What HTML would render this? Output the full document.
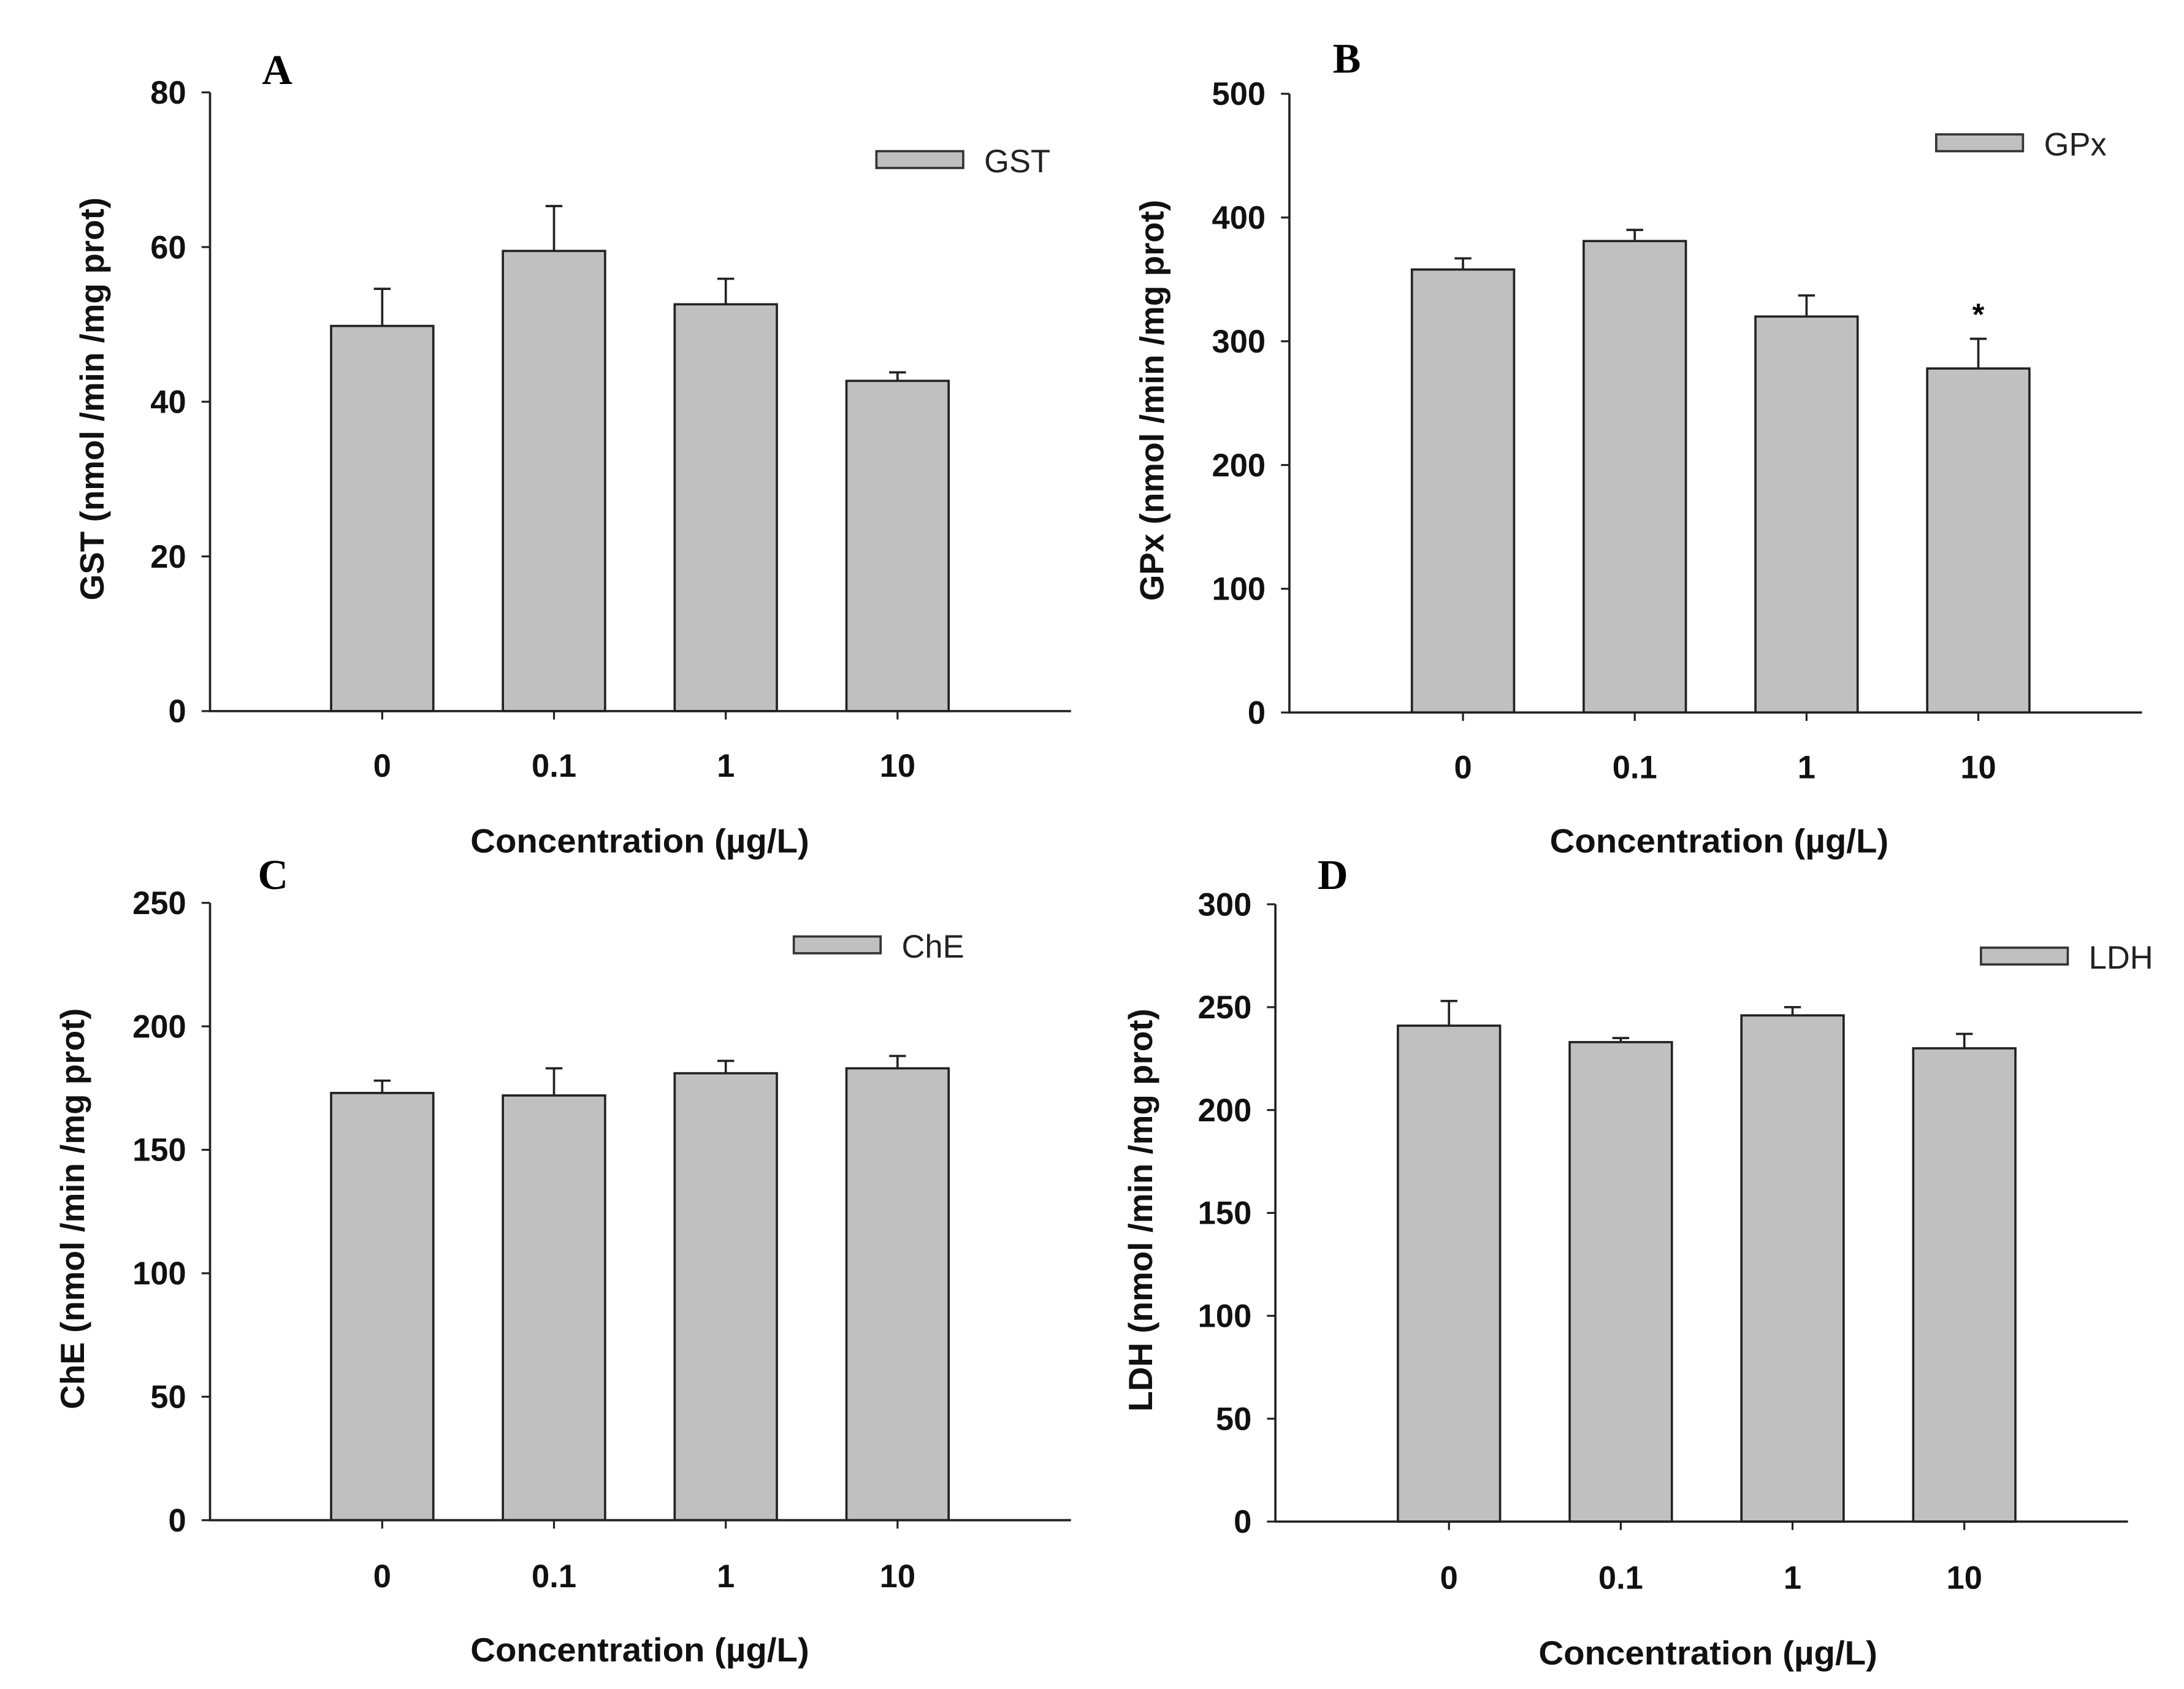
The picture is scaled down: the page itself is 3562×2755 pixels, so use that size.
<!DOCTYPE html>
<html><head><meta charset="utf-8">
<style>html,body{margin:0;padding:0;background:#fff}svg{display:block}</style></head>
<body>
<svg id="fig" width="3562" height="2755" viewBox="0 0 1560 1206.6" xmlns="http://www.w3.org/2000/svg" font-family="'Liberation Sans', sans-serif"></svg>
<script>
const categories = ["0","0.1","1","10"];
const gstValues = [49.8, 59.5, 52.6, 42.7];
const gstErrors = [4.8, 5.8, 3.3, 1.1];
const gpxValues = [358, 381, 320, 278];
const gpxErrors = [9, 9, 17, 24];
const cheValues = [173, 172, 181, 183];
const cheErrors = [5, 11, 5, 5];
const ldhValues = [241, 233, 246, 230];
const ldhErrors = [12, 2, 4, 7];
const gstTicks = [0,20,40,60,80];
const gpxTicks = [0,100,200,300,400,500];
const cheTicks = [0,50,100,150,200,250];
const ldhTicks = [0,50,100,150,200,250,300];
const gpxStars = ["","","","*"];

const svg = document.getElementById('fig');
const NS = 'http://www.w3.org/2000/svg';
function mk(tag, attrs, parent){const e=document.createElementNS(NS,tag);for(const k in attrs)e.setAttribute(k,attrs[k]);(parent||svg).appendChild(e);return e;}

const panels = [
 {key:'a',letter:'A',lx:198,ly:60,ax:150,top:66,zero:508,right:765,ymax:80,ticks:gstTicks,vals:gstValues,errs:gstErrors,name:'GST',ytx:66,
  c0:273,step:122.7,tly:555,ttx:457,tty:609,legx:626,legy:108,stars:null},
 {key:'b',letter:'B',lx:962,ly:52,ax:921,top:67,zero:509,right:1530,ymax:500,ticks:gpxTicks,vals:gpxValues,errs:gpxErrors,name:'GPx',ytx:823,
  c0:1045,step:122.7,tly:556,ttx:1228,tty:609,legx:1383,legy:96,stars:gpxStars},
 {key:'c',letter:'C',lx:195,ly:635,ax:150,top:645,zero:1086,right:765,ymax:250,ticks:cheTicks,vals:cheValues,errs:cheErrors,name:'ChE',ytx:52,
  c0:273,step:122.7,tly:1134,ttx:457,tty:1187,legx:567,legy:669,stars:null},
 {key:'d',letter:'D',lx:952,ly:635,ax:911,top:646,zero:1087,right:1520,ymax:300,ticks:ldhTicks,vals:ldhValues,errs:ldhErrors,name:'LDH',ytx:815,
  c0:1035,step:122.7,tly:1135,ttx:1220,tty:1189,legx:1415,legy:677,stars:null}
];

panels.forEach(p=>{
  const g = mk('g',{});
  
  
  const y = v => p.zero - (v/p.ymax)*(p.zero-p.top);
  const x = i => p.c0 + i*p.step;
  const bw = 73;
  const L = mk('text',{x:p.lx,y:p.ly,'font-family':"'Liberation Serif', serif",'font-weight':'bold','font-size':30,'text-anchor':'middle',fill:'#000'},g);
  L.textContent=p.letter;
  
  
  p.vals.forEach((v,i)=>{
    const e = p.errs[i];
    const eb = mk('path',{d:`M${x(i)},${y(v)}V${y(v+e)}M${x(i)-6},${y(v+e)}H${x(i)+6}`,stroke:'#222','stroke-width':1.6,fill:'none'},g);
    
    
    const r = mk('rect',{x:x(i)-bw/2,y:y(v),width:bw,height:p.zero-y(v),fill:'#c0c0c0',stroke:'#222','stroke-width':1.6},g);
    
    
    if(p.stars && p.stars[i]){
      const s = mk('text',{x:x(i),y:y(v+e)-10,'font-size':22,'font-weight':'bold','text-anchor':'middle',fill:'#000'},g);
      s.textContent=p.stars[i];
      
      
    }
    const t = mk('path',{d:`M${x(i)},${p.zero}V${p.zero+6}`,stroke:'#222','stroke-width':1.4},g);
    
    
    const tl = mk('text',{x:x(i),y:p.tly,'font-size':23,'font-weight':'bold','text-anchor':'middle',fill:'#111'},g);
    tl.textContent=categories[i];
    
    
  });
  const ax = mk('path',{d:`M${p.ax},${p.top}V${p.zero}H${p.right}`,stroke:'#222','stroke-width':1.6,fill:'none'},g);
  
  
  p.ticks.forEach(tv=>{
    const t = mk('path',{d:`M${p.ax-6},${y(tv)}H${p.ax}`,stroke:'#222','stroke-width':1.4},g);
    
    
    const tl = mk('text',{x:p.ax-17,y:y(tv)+8,'font-size':23,'font-weight':'bold','text-anchor':'end',fill:'#111'},g);
    tl.textContent=tv;
    
    
  });
  const xt = mk('text',{x:p.ttx,y:p.tty,'font-size':24,'font-weight':'bold','text-anchor':'middle',fill:'#111',textLength:242,lengthAdjust:'spacingAndGlyphs'},g);
  xt.textContent='Concentration (µg/L)';
  
  
  const yc=(p.top+p.zero)/2 - 2;
  const yt = mk('text',{x:p.ytx,y:yc,'font-size':24,'font-weight':'bold','text-anchor':'middle',fill:'#111',transform:`rotate(-90 ${p.ytx} ${yc})`,dy:8},g);
  yt.textContent=p.name+' (nmol /min /mg prot)';
  
  
  const lg = mk('g',{},g);
  
  
  mk('rect',{x:p.legx,y:p.legy,width:62,height:12,fill:'#c0c0c0',stroke:'#333','stroke-width':1.6},lg);
  const lt = mk('text',{x:p.legx+77,y:p.legy+15,'font-size':23,fill:'#222'},lg);
  lt.textContent=p.name;
});
</script>
</body></html>
